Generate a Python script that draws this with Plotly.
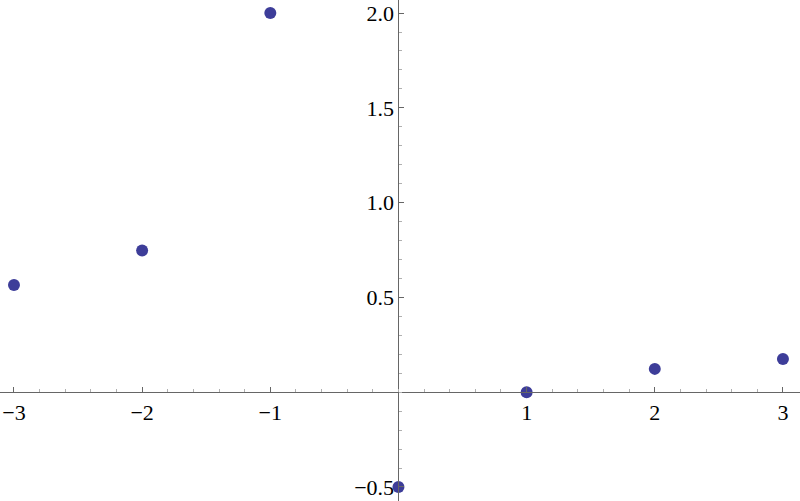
import plotly.graph_objects as go

x_vals = [-3, -2, -1, 0, 1, 2, 3]
y_vals = [0.566, 0.748, 2.0, -0.5, 0.0, 0.123, 0.175]

x_ticks = [-3, -2, -1, 1, 2, 3]
x_tick_text = ["\u22123", "\u22122", "\u22121", "1", "2", "3"]
y_ticks = [-0.5, 0.5, 1.0, 1.5, 2.0]
y_tick_text = ["\u22120.5", "0.5", "1.0", "1.5", "2.0"]

x_range = [-3.109, 3.133]
y_range = [-0.574, 2.069]

fig = go.Figure(go.Scatter(
    x=x_vals, y=y_vals, mode="markers",
    marker=dict(size=12, color="#3d3d99"),
    cliponaxis=False,
))

xpos = (0 - y_range[0]) / (y_range[1] - y_range[0])
ypos = (0 - x_range[0]) / (x_range[1] - x_range[0])

axis_font = dict(family="Liberation Serif, Times New Roman, serif", size=22, color="black")

fig.update_layout(
    width=800, height=501,
    margin=dict(l=0, r=0, t=0, b=0, autoexpand=False),
    plot_bgcolor="white", paper_bgcolor="white",
    showlegend=False,
    xaxis=dict(
        range=x_range, anchor="free", position=xpos,
        showgrid=False, zeroline=False, showline=True, linecolor="#666666", linewidth=1,
        tickvals=x_ticks, ticktext=x_tick_text, ticks="inside", ticklen=5, tickcolor="#666666",
        tickfont=axis_font, automargin=False,
        minor=dict(dtick=0.2, tick0=0, ticks="inside", ticklen=3, tickcolor="#b0b0b0", showgrid=False),
    ),
    yaxis=dict(
        range=y_range, anchor="free", position=ypos,
        showgrid=False, zeroline=False, showline=True, linecolor="#666666", linewidth=1,
        tickvals=y_ticks, ticktext=y_tick_text, ticks="inside", ticklen=5, tickcolor="#666666",
        tickfont=axis_font, automargin=False,
        minor=dict(dtick=0.1, tick0=0, ticks="inside", ticklen=3, tickcolor="#b0b0b0", showgrid=False),
    ),
)

fig.write_html("out.html", config={"displayModeBar": False},
               post_script="document.body.style.margin='0';")
